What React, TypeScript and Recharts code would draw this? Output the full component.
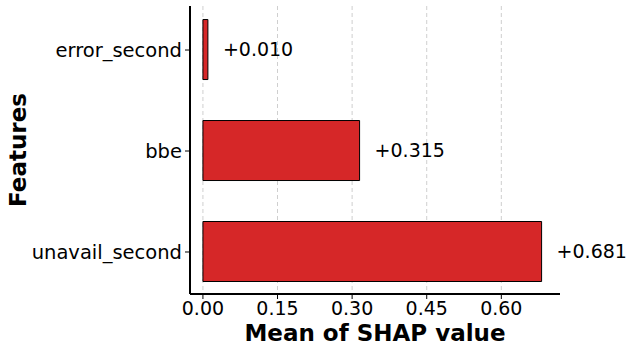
import { BarChart, Bar, XAxis, YAxis, CartesianGrid, LabelList } from 'recharts';

// top to bottom, as in the picture
const features = ['error_second', 'bbe', 'unavail_second'];
const shapValues = [0.01, 0.315, 0.681];
const xTicks = [0, 0.15, 0.3, 0.45, 0.6];
const xDomain = [-0.026, 0.718];

const data = features.map((feature, i) => ({ feature, value: shapValues[i], pos: i }));

const FONT = '"DejaVu Sans", sans-serif';

// grid only at the tick values (not at the plot edge)
const gridX = ({ offset }: any) =>
    xTicks.map((t) => offset.left + ((t - xDomain[0]) / (xDomain[1] - xDomain[0])) * offset.width);

export default function App() {
    return (
        <div style={{ position: 'absolute', left: 0, top: 0, background: '#fff' }}>
            <BarChart
                width={634}
                height={354}
                data={data}
                layout="vertical"
                margin={{ top: 6, right: 74, left: 0, bottom: 0 }}
            >
                <CartesianGrid
                    horizontal={false}
                    stroke="#cfcfcf"
                    strokeDasharray="4 3"
                    verticalCoordinatesGenerator={gridX}
                />
                <XAxis
                    type="number"
                    dataKey="value"
                    domain={xDomain}
                    ticks={xTicks}
                    tickFormatter={(v: number) => v.toFixed(2)}
                    height={60}
                    tickSize={5}
                    tickMargin={3}
                    axisLine={{ stroke: '#000', strokeWidth: 2 }}
                    tickLine={{ stroke: '#000' }}
                    tick={{ fill: '#000', fontSize: 19, fontFamily: FONT }}
                    label={{
                        content: (props: any) => {
                            const vb = props.viewBox;
                            return (
                                <text
                                    x={vb.x + vb.width / 2}
                                    y={vb.y + 47}
                                    textAnchor="middle"
                                    fontFamily={FONT}
                                    fontWeight="bold"
                                    fontSize={23}
                                    fill="#000"
                                >
                                    Mean of SHAP value
                                </text>
                            );
                        },
                    }}
                />
                <YAxis
                    type="number"
                    dataKey="pos"
                    domain={[-0.436, 2.416]}
                    ticks={[0, 1, 2]}
                    tickFormatter={(v: number) => features[v]}
                    width={190}
                    tickSize={5}
                    tickMargin={3}
                    axisLine={{ stroke: '#000', strokeWidth: 2 }}
                    tickLine={{ stroke: '#000' }}
                    tick={{ fill: '#000', fontSize: 19.5, fontFamily: FONT }}
                    label={{
                        content: (props: any) => {
                            const vb = props.viewBox;
                            const cy = vb.y + vb.height / 2;
                            return (
                                <text
                                    x={26}
                                    y={cy}
                                    transform={`rotate(-90 26 ${cy})`}
                                    textAnchor="middle"
                                    fontFamily={FONT}
                                    fontWeight="bold"
                                    fontSize={23}
                                    fill="#000"
                                >
                                    Features
                                </text>
                            );
                        },
                    }}
                />
                <Bar
                    dataKey="value"
                    fill="#d62728"
                    stroke="#000"
                    strokeWidth={1}
                    barSize={60}
                    isAnimationActive={false}
                >
                    <LabelList
                        dataKey="value"
                        position="right"
                        offset={15}
                        formatter={(v: any) => '+' + Number(v).toFixed(3)}
                        style={{ fill: '#000', fontSize: 19, fontFamily: FONT }}
                    />
                </Bar>
            </BarChart>
        </div>
    );
}
